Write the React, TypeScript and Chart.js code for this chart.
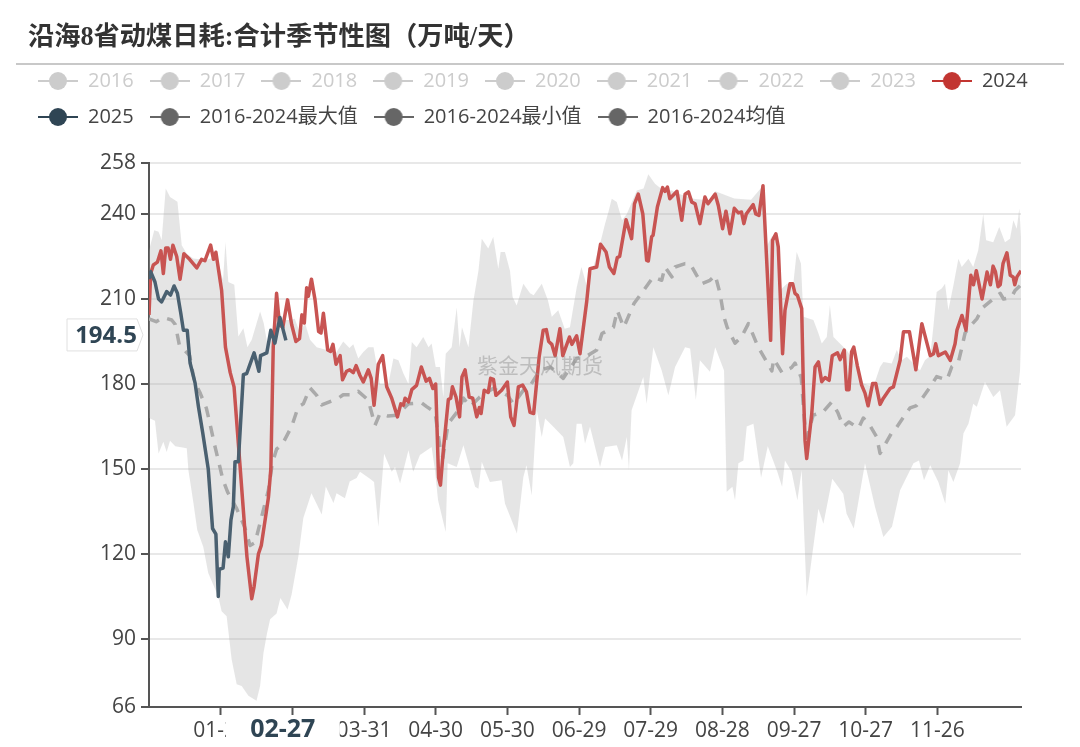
import { useEffect, useRef } from 'react';
import { Chart, registerables } from 'chart.js';

Chart.register(...registerables);

const titleText = '沿海8省动煤日耗:合计季节性图\uFF08万吨/天\uFF09';
const watermarkText = '紫金天风期货';
const seriesNames = ['2016', '2017', '2018', '2019', '2020', '2021', '2022', '2023', '2024', '2025', '2016-2024最大值', '2016-2024最小值', '2016-2024均值'];
const yTicks = [66, 90, 120, 150, 180, 210, 240, 258];
const xTickDays = [30, 60, 90, 120, 150, 180, 210, 240, 270, 300, 330];
const xTickLabels = ['01-28', '02-27', '03-31', '04-30', '05-30', '06-29', '07-29', '08-28', '09-27', '10-27', '11-26'];
const pointerDay = 56;
const pointerDayLabel = '02-27';
const pointerValue = 194.5;

const days2024 = [0, 0.7, 1.8, 3.5, 5, 6, 7, 8, 9, 10, 11.6, 13, 14.6, 17, 20, 22, 23.4, 25.8, 27, 28, 30.4, 32, 34, 35.6, 37.4, 39.8, 41, 43, 44, 45.8, 47, 48.6, 50, 51, 52, 53.4, 54.6, 56, 58, 59.7, 61.5, 63, 64, 65, 66, 66.7, 68, 69.5, 71, 72, 73, 74.8, 76, 77, 78.3, 80, 81, 82.7, 84, 85.5, 86.7, 88.3, 89.7, 91.8, 93, 94.2, 96, 97.8, 99.5, 101.6, 104, 105.4, 106.5, 107.2, 108.6, 110, 112, 114, 116, 117.4, 118.8, 120, 121.2, 122, 123.2, 125.3, 126.3, 127, 128.5, 130, 131, 132.3, 134, 135.5, 137.2, 138.3, 139, 140.3, 142, 143, 144.2, 145.2, 147.6, 150, 151.4, 152.8, 154.6, 156.4, 158, 159.5, 161, 163.3, 165, 166.3, 167.3, 168.6, 170, 172, 173.2, 176, 177, 179, 180.4, 183.2, 184.6, 187.4, 189, 191.3, 192.7, 194.6, 196, 197, 199.7, 202, 203.2, 204.8, 206.7, 208.3, 209, 210.4, 211, 212.8, 215, 216, 217, 218, 221, 223, 224.4, 225.8, 227.2, 228.6, 230.6, 232.7, 234, 237, 238.3, 240.1, 241.5, 243.2, 245, 246.7, 248, 249, 250, 252.9, 254, 255.3, 257, 260.2, 261, 262.4, 263.4, 264.1, 265.2, 266.2, 268.3, 269.4, 270.4, 271.4, 273.2, 273.9, 274.6, 275.3, 277.4, 278.8, 280.2, 281.6, 283, 284.7, 286, 288.2, 289.3, 291, 292, 293, 294.1, 295, 296.5, 298.3, 299.7, 301, 302.9, 304.2, 306, 307.4, 310.2, 311.6, 314.4, 315.8, 318.3, 321, 323.5, 327, 328.4, 329.3, 330.4, 333.3, 335.4, 337.4, 338.2, 340.3, 342, 344, 345.1, 346.3, 348.7, 350.8, 352.2, 353.3, 354.3, 355.4, 356.3, 357.5, 359.1, 360.5, 361.7, 362.4, 363.3, 365];
const values2024 = [204.4, 219, 222, 223, 227, 219, 228, 228, 224, 229, 225, 217, 226, 224, 221, 224, 223.5, 229, 224, 226.5, 213, 193, 184, 179, 159, 132, 119, 104.2, 108.6, 120, 123, 132, 140, 150, 193, 212, 201, 200, 209.7, 201, 195, 196, 204.4, 201.5, 214, 211, 217, 209.7, 198.5, 198, 205, 192, 191.5, 194, 187, 190, 181.5, 184.5, 185, 184, 186.5, 183, 180.7, 185, 182, 172.5, 187, 190, 179, 175, 168.4, 173, 172.5, 175, 173.7, 178, 179.5, 186, 181, 182, 178.4, 180, 147, 144.3, 156.6, 174.5, 175, 179, 175.4, 168.4, 182.5, 185, 175.4, 175, 168.4, 171.7, 169.6, 177.8, 177, 182, 181.6, 176, 177.8, 180.7, 168.4, 165.4, 179, 179.6, 177.2, 170, 169.6, 189.5, 199, 199.2, 195, 194, 190, 199.5, 190, 196.6, 194, 197, 190.7, 209, 220.7, 221.3, 229.3, 226.6, 221.3, 219, 224.6, 225, 238, 231.3, 243.6, 247, 240, 223.6, 223.4, 232, 232.5, 242.5, 249.3, 248, 249.5, 245.4, 248, 237.8, 247, 247.8, 244.2, 243.6, 236.6, 246, 243.6, 247, 243, 234.8, 241, 233, 242, 240.4, 240.7, 236.6, 240, 243.3, 240, 239.5, 250, 195.4, 230.7, 233, 228.4, 214, 190.7, 206, 215.4, 215.4, 212, 211.3, 206.6, 179, 160, 153.7, 169.4, 186, 187.8, 180.8, 182.3, 181.3, 190, 191, 188.6, 192, 178, 178, 191.4, 193, 186.4, 179.6, 176.8, 172.3, 180.2, 180.2, 172.8, 175, 178.4, 179, 188.4, 198.4, 198.4, 185, 201.3, 190, 190.7, 194.2, 190, 191.3, 188.3, 194.2, 199, 204.2, 199, 218.4, 215, 220, 210, 219.5, 215, 221.6, 219.6, 214.3, 215, 222.6, 226.3, 218.4, 217.8, 215, 217.8, 220];

const days2025 = [0, 0.7, 2.5, 4, 5.3, 7.4, 9, 10.5, 11.9, 13.3, 14.4, 16, 17.2, 19.3, 20.7, 22.5, 24.8, 26.6, 28, 29, 29.4, 31, 32, 33.2, 34.3, 35.3, 36, 37.4, 39.5, 40.9, 42.3, 44, 46, 46.7, 49.3, 51, 52.7, 54.8, 57.3];
const values2025 = [217, 219.6, 216, 210, 209, 212.6, 211.4, 214.6, 212, 205, 199, 199, 187.4, 180.3, 172, 162.7, 150, 129, 127, 105, 114.6, 115, 124.3, 119, 132, 136.7, 152.6, 152.6, 183.3, 183.7, 187, 191, 184.5, 190, 191, 199, 194.4, 203.5, 195.4];

const daysMax = [0, 2.2, 4, 5.3, 7, 8.8, 11.9, 13.7, 15.8, 18.5, 24, 28.3, 31, 32, 33.2, 35.7, 37.4, 39.5, 41.2, 43, 46.5, 48, 50, 52, 56, 59, 61, 63.2, 65.3, 67.4, 70.2, 74.4, 78.3, 81.3, 83.9, 85.5, 87.6, 89.7, 91.8, 94, 96.7, 100.2, 102.3, 104.4, 106.5, 108.6, 110, 112, 114.8, 117, 118.3, 120, 121.8, 123.2, 124.2, 126.7, 128.8, 130, 131, 133.7, 135.8, 137.9, 139.3, 142, 144.1, 146.2, 147.2, 149, 151.1, 152.2, 153.9, 156.7, 159.5, 161, 164.4, 167, 168.6, 171.3, 174, 176.2, 179, 181, 183.2, 186, 188.8, 190.9, 192.3, 193.7, 195.8, 198, 200, 204.2, 207, 209, 211.8, 215.3, 218.8, 222.3, 227.9, 234.8, 237, 245, 252, 257, 258.5, 260.6, 262.7, 264.1, 267, 269.7, 271.1, 272.9, 273.9, 278.1, 280.2, 281.6, 283.7, 285, 286.5, 289.2, 292, 294.8, 299, 303.2, 306, 307.4, 310.9, 313, 315, 317.2, 320, 322.7, 324.8, 327, 328.3, 329.7, 331.8, 333.2, 334.6, 336.7, 338.8, 340.2, 343, 345, 347.1, 349.2, 350.4, 353.4, 355.9, 358.3, 360.4, 361.8, 363.2, 364.3, 365];
const valuesMax = [227, 234.3, 233.7, 230.8, 249, 246, 244.3, 229, 226, 224.3, 223.8, 225, 216.7, 230, 216, 215, 196.8, 199.7, 193, 195.6, 205.6, 201.5, 192, 200.8, 202.6, 202.6, 203, 198, 201.5, 195.6, 193, 192, 191, 195, 192.7, 194, 189, 191.3, 193, 193, 180, 180, 189, 188.4, 183.7, 180, 194.8, 193, 196.6, 193, 194.3, 186, 186, 175.4, 190.7, 193, 207, 193, 200, 193, 209.5, 220, 231.3, 227.8, 231.9, 220.7, 226.6, 226.6, 220, 210.7, 207.7, 215.4, 212, 211.3, 215.4, 209.5, 203.7, 206, 199.5, 200, 214, 221.3, 214.8, 221.3, 229.5, 236.6, 240.7, 245.4, 244.2, 237.8, 240, 248.3, 249, 254, 250.7, 248.3, 248.3, 247, 245.4, 244.8, 248, 245.5, 245, 250, 228.4, 232, 233, 213, 215.4, 215.4, 226.6, 222.5, 203.7, 202.6, 197.9, 194.3, 196.6, 207.8, 196.6, 194.3, 192, 188.4, 180.2, 179, 186, 187.8, 187.2, 192, 188.4, 189.6, 187.2, 184.8, 188.4, 190, 200, 212.5, 213.7, 215.4, 206, 214.8, 224.2, 221.3, 224.2, 221.3, 227.2, 240, 230.7, 230, 235.4, 230, 231.3, 237.8, 234.8, 241.9, 232];

const daysMin = [0, 2.5, 4, 6, 7.4, 8.8, 11, 15.8, 16.5, 18.6, 20.2, 22.7, 24.8, 29, 30.4, 32.5, 34.6, 36.7, 38.8, 41.6, 45, 46.5, 47.9, 49.3, 50.7, 53.4, 55, 58, 59.7, 62.5, 64.6, 68, 72.3, 74, 77.2, 78.5, 82, 84, 86.9, 88.3, 92.5, 94.2, 96, 98.4, 101.6, 103, 105.1, 108.6, 110.6, 113.4, 118.3, 119.7, 121, 124.2, 125, 128.8, 131.6, 136.5, 137.9, 139.3, 142.7, 147.6, 149, 154, 156.7, 158, 160.2, 162.3, 164.4, 165.8, 170.7, 173.4, 176.2, 177.6, 179, 181.1, 182.5, 184.6, 188.8, 190.9, 195.8, 198, 200, 200.9, 202, 206.9, 208.3, 211.1, 214.6, 217.4, 220.2, 224.4, 226.5, 228.9, 230.6, 234.8, 237, 240.7, 241.8, 244.2, 245.3, 246.7, 248.8, 250.2, 253, 254.4, 256.2, 259, 263, 265, 266.2, 269, 271.4, 273.2, 275.3, 277.4, 280.2, 282.3, 286, 290.6, 292, 295, 299.7, 303.9, 307.4, 311, 314.4, 320, 322.3, 324.4, 327, 330.4, 333.3, 334.6, 336.7, 339.5, 340.9, 343, 345, 346.5, 349.9, 353.4, 356.2, 359, 362.5, 364.6, 365];
const valuesMin = [168, 167, 155.5, 159.6, 156, 160, 158, 157.3, 149.6, 138, 128.5, 122.6, 113.3, 105, 99.8, 98, 82.8, 74, 73.4, 70, 68.2, 73.4, 85, 91.6, 97, 99, 104.5, 100.4, 105.7, 119, 132.7, 141.4, 133.9, 143.8, 138, 141.4, 139.7, 145.6, 146.8, 149, 146.6, 145.4, 129.6, 155.4, 149, 150.7, 144.9, 156.6, 149, 154.9, 157.8, 149.6, 139, 127.8, 152, 150.7, 158.4, 143.7, 143, 152.5, 145.4, 146, 137.8, 127.2, 147.2, 151.3, 140.7, 170.7, 161.3, 167.8, 163.7, 161.3, 150.7, 152, 166, 166, 159, 164.9, 150.7, 157.8, 158.4, 153, 161.3, 149.6, 170.7, 182.5, 173, 193, 184.8, 176, 186, 193, 192.5, 174.4, 188.4, 184.3, 193, 184.8, 142, 143.7, 139, 152, 153, 165, 166, 157.8, 147, 158, 149, 143.7, 153, 149, 139, 149.6, 104.9, 118.4, 136, 130.7, 146.6, 141.3, 134.2, 129, 152, 136.6, 126, 129.6, 142.5, 152, 153, 146, 151.3, 145.4, 137.8, 149.6, 145.4, 152, 162.5, 166, 173, 172, 180.7, 175.4, 177.8, 164.9, 169, 184.8, 196.6];

const daysMean = [0, 3, 6, 9.5, 11, 12.7, 17, 19, 21.3, 24, 25.5, 27.6, 31, 33, 36.7, 40, 42.3, 44.4, 46.5, 50, 51.6, 53.4, 56, 59.7, 62.5, 64.6, 67.4, 70.2, 72.3, 75.8, 79.3, 81.3, 84.8, 87.6, 91.8, 94.6, 96.7, 100, 103.7, 108.6, 114, 116.2, 119.7, 121.8, 123, 125.2, 129.5, 131.6, 134.4, 138.5, 144, 150, 152.6, 156.7, 160, 163.6, 168, 173.4, 179, 183.2, 187.4, 189.6, 194.4, 196, 198.7, 203, 207, 211.1, 214.6, 216, 218.9, 220.2, 224.4, 226.5, 229.2, 231.3, 234.8, 237, 239, 240.7, 242, 245.3, 248, 250.9, 255, 257.9, 260.7, 261.5, 265, 269, 270.4, 273, 274.6, 275.3, 278, 282, 285.7, 288.3, 290.6, 293, 297, 299, 302, 304.6, 306, 311, 313, 316.4, 318.6, 321.3, 323.5, 327, 329.7, 334, 336, 338.8, 340, 341.6, 344.4, 346.5, 349, 351, 356.3, 357.7, 361, 362.5, 365];
const valuesMean = [203, 202, 203.5, 202.6, 201, 193.8, 190, 181, 177, 171.5, 166, 158, 146, 141.7, 136, 129.6, 123, 124, 131, 142.6, 152, 157, 159, 165, 172, 173, 178.6, 176, 172.6, 173.8, 175, 176.2, 176.2, 177.4, 174.3, 165.4, 169.6, 168.7, 169, 173, 173.4, 172, 170, 157.8, 154, 166, 170.7, 175, 172, 175.4, 178.4, 176, 173, 177.8, 180, 184.8, 186, 182, 189, 189.8, 192, 197.8, 200, 206, 200, 208.4, 213, 217.8, 216.6, 221.3, 217.8, 221.3, 222.5, 222.5, 218.4, 215.4, 216.6, 218.4, 212, 203.6, 200, 194.4, 196.6, 201.3, 193, 188.8, 184.6, 188.8, 184, 185.8, 187.4, 182.3, 164.7, 161, 169, 170, 173.6, 170, 165, 166.6, 164.4, 168, 165, 161.3, 155.5, 163, 164.8, 169, 171.6, 172.4, 174.8, 179, 182.6, 181.4, 186, 187.8, 192, 198, 201, 203, 207, 208.4, 212, 210, 210.6, 213, 215];

const toPoints = (days: number[], values: number[]) => days.map((d, i) => ({ x: d, y: values[i] }));

// legend marker: a short line with a dot on it
function legendMarker(color: string) {
	const c = document.createElement('canvas');
	c.width = 40;
	c.height = 20;
	const ctx = c.getContext('2d');
	if (ctx) {
		ctx.strokeStyle = color;
		ctx.fillStyle = color;
		ctx.lineWidth = 2;
		ctx.beginPath();
		ctx.moveTo(0, 10);
		ctx.lineTo(40, 10);
		ctx.stroke();
		ctx.beginPath();
		ctx.arc(20, 10, 9, 0, Math.PI * 2);
		ctx.fill();
	}
	return c;
}

const fontFamily = '"Open Sans", "Noto Sans CJK SC", sans-serif';

const overlayPlugin = {
	id: 'overlay',
	afterDatasetsDraw(chart: any) {
		const { ctx, chartArea, width } = chart;
		ctx.save();
		ctx.font = `21px ${fontFamily}`;
		ctx.fillStyle = 'rgba(150,150,150,0.5)';
		ctx.textAlign = 'center';
		ctx.textBaseline = 'middle';
		ctx.fillText(watermarkText, width / 2, chartArea.top + 204);
		ctx.restore();
	},
	afterDraw(chart: any) {
		const { ctx, chartArea, scales } = chart;
		ctx.save();
		// y axis pointer label
		const py = scales.y.getPixelForValue(pointerValue) - 8;
		const left = 67;
		const right = 137;
		ctx.beginPath();
		ctx.moveTo(left, py - 16);
		ctx.lineTo(right, py - 16);
		ctx.lineTo(right + 6, py);
		ctx.lineTo(right, py + 16);
		ctx.lineTo(left, py + 16);
		ctx.closePath();
		ctx.fillStyle = '#fff';
		ctx.fill();
		ctx.strokeStyle = '#e0e0e0';
		ctx.lineWidth = 1;
		ctx.stroke();
		ctx.fillStyle = '#2f4554';
		ctx.font = `bold 24px ${fontFamily}`;
		ctx.textAlign = 'center';
		ctx.textBaseline = 'middle';
		ctx.fillText(String(pointerValue), 106, py + 1);

		// x axis pointer label
		const px = scales.x.getPixelForValue(pointerDay);
		ctx.fillStyle = '#fff';
		ctx.fillRect(px - 57, chartArea.bottom + 9, 114, 31);
		ctx.fillStyle = '#2f4554';
		ctx.font = `bold 25px ${fontFamily}`;
		ctx.fillText(pointerDayLabel, px, chartArea.bottom + 23);
		ctx.restore();
	},
};

export default function App() {
	const chartRef = useRef<HTMLCanvasElement | null>(null);

	useEffect(() => {
		if (!chartRef.current) return;

		const markerColors = seriesNames.map((name, i) => {
			if (i < 8) return '#ccc';
			if (name === '2024') return '#c23531';
			if (name === '2025') return '#2f4554';
			return '#666';
		});
		const markers = markerColors.map(legendMarker);

		const line = { pointRadius: 0, borderJoinStyle: 'round' as const, tension: 0 };
		const chart = new Chart(chartRef.current, {
			type: 'line',
			data: {
				datasets: [
					...seriesNames.slice(0, 8).map((name) => ({ label: name, data: [] })),
					{ ...line, label: '2024', data: toPoints(days2024, values2024), borderColor: 'rgb(200,84,82)', borderWidth: 3.5, order: 1 },
					{ ...line, label: '2025', data: toPoints(days2025, values2025), borderColor: 'rgb(74,96,112)', borderWidth: 3.5, order: 0 },
					{ ...line, label: seriesNames[10], data: toPoints(daysMax, valuesMax), borderWidth: 0, borderColor: 'transparent', backgroundColor: 'rgba(170,170,170,0.3)', fill: '+1', order: 3 },
					{ ...line, label: seriesNames[11], data: toPoints(daysMin, valuesMin), borderWidth: 0, borderColor: 'transparent', order: 4 },
					{ ...line, label: seriesNames[12], data: toPoints(daysMean, valuesMean), borderColor: 'rgb(170,170,170)', borderWidth: 3.5, borderDash: [11, 9], order: 2 },
				] as any,
			},
			options: {
				responsive: false,
				animation: false,
				events: [],
				layout: { padding: { left: 22, top: 55, right: 0, bottom: 0 } },
				plugins: {
					tooltip: { enabled: false },
					legend: {
						position: 'top',
						align: 'start',
						onClick: () => {},
						labels: {
							usePointStyle: true,
							pointStyleWidth: 40,
							padding: 16,
							font: { family: fontFamily, size: 20 },
							generateLabels: () =>
								seriesNames.map((name, i) => ({
									text: name,
									fontColor: i < 8 ? '#ccc' : '#444',
									pointStyle: markers[i],
									datasetIndex: i,
									lineWidth: 0,
								})),
						},
					},
				},
				scales: {
					x: {
						type: 'linear',
						position: 'bottom',
						min: 0,
						max: 365,
						afterBuildTicks: (scale: any) => {
							scale.ticks = xTickDays.map((value) => ({ value }));
						},
						afterFit: (scale: any) => {
							scale.height = 40;
						},
						ticks: {
							autoSkip: false,
							maxRotation: 0,
							padding: 3,
							color: '#444',
							font: { family: fontFamily, size: 21 },
							callback: (value: any) => xTickLabels[xTickDays.indexOf(value)],
						},
						border: { color: '#555', width: 2 },
						grid: { drawOnChartArea: false, tickLength: 8, tickColor: '#555', tickWidth: 2 },
					},
					y: {
						type: 'linear',
						position: 'left',
						min: 66,
						max: 258,
						afterBuildTicks: (scale: any) => {
							scale.ticks = yTicks.map((value) => ({ value }));
						},
						afterFit: (scale: any) => {
							scale.width = 127;
						},
						ticks: { padding: 5, color: '#444', font: { family: fontFamily, size: 21 } },
						border: { color: '#555', width: 2 },
						grid: { color: '#e8e8e8', lineWidth: 2, tickLength: 8, tickColor: '#555', tickWidth: 2 },
					},
					// empty axes, they only keep space around the plot
					xTop: {
						type: 'linear',
						position: 'top',
						ticks: { display: false },
						grid: { display: false },
						border: { display: false },
						afterFit: (scale: any) => {
							scale.height = 26;
						},
					},
					yRight: {
						type: 'linear',
						position: 'right',
						ticks: { display: false },
						grid: { display: false },
						border: { display: false },
						afterFit: (scale: any) => {
							scale.width = 59;
						},
					},
				},
			},
			plugins: [overlayPlugin],
		} as any);

		return () => {
			chart.destroy();
		};
	}, []);

	return (
		<div style={{ position: 'absolute', left: 0, top: 0, width: 1080, height: 747, background: '#fff', overflow: 'hidden' }}>
			<canvas ref={chartRef} width={1080} height={747} style={{ position: 'absolute', left: 0, top: 0 }}></canvas>
			<div
				style={{
					position: 'absolute',
					left: 28,
					top: 20,
					fontFamily: '"Liberation Serif", "Noto Sans CJK SC", serif',
					fontWeight: 'bold',
					fontSize: 26.25,
					lineHeight: '34px',
					color: '#333',
					whiteSpace: 'nowrap',
				}}
			>
				{titleText}
			</div>
			<div style={{ position: 'absolute', left: 16, top: 63, width: 1048, height: 2, background: '#c8c8c8' }}></div>
		</div>
	);
}
